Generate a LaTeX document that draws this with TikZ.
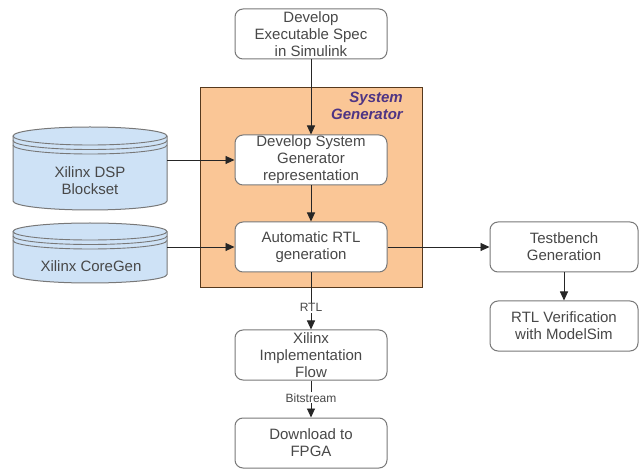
\documentclass[tikz,border=0pt]{standalone}
\usepackage{fontspec}
\setmainfont{Liberation Sans}
\usetikzlibrary{arrows.meta,positioning}

\definecolor{sysorange}{RGB}{250,198,150}
\definecolor{diskblue}{RGB}{206,226,246}
\definecolor{sgpurple}{RGB}{78,52,132}
\definecolor{txtgray}{RGB}{72,72,72}
\definecolor{boxgray}{RGB}{120,120,120}

\begin{document}
\begin{tikzpicture}[x=1pt, y=1pt,
    procbox/.style={draw=boxgray, line width=1pt, rounded corners=8pt, fill=white,
        text=txtgray, align=center, inner sep=0pt,
        minimum width=152pt, minimum height=50pt,
        font=\fontsize{15}{17}\selectfont},
    disk/.style={draw=boxgray, line width=1pt, fill=diskblue},
    disktext/.style={text=txtgray, align=center, font=\fontsize{15}{17}\selectfont},
    link/.style={draw=black!85, line width=0.9pt, -{Triangle[length=9pt,width=8pt]}},
    tag/.style={fill=white, text=txtgray, inner sep=1pt, font=\fontsize{12}{14}\selectfont}]

\useasboundingbox (0,0) rectangle (640,469);
\fill[white] (0,0) rectangle (640,469);

% the System Generator region
\draw[fill=sysorange, draw=black!55!brown, line width=1pt] (200,181) rectangle (422,381);
\node (sgname) [anchor=north east, align=right, text=sgpurple, inner sep=0pt,
    font=\fontsize{15}{17}\bfseries\itshape] at (403,377) {System\\Generator};

% the flow boxes
\node (spec)   [procbox] at (311,435) {Develop\\Executable Spec\\in Simulink};
\node (sgrep)  [procbox] at (311,309) {Develop System\\Generator\\representation};
\node (rtlgen) [procbox] at (311,222) {Automatic RTL\\generation};
\node (impl)   [procbox] at (311,114) {Xilinx\\Implementation\\Flow};
\node (fpga)   [procbox] at (311,26)  {Download to\\FPGA};
\node (tbgen)  [procbox, minimum width=148pt] at (564,222) {Testbench\\Generation};
\node (verif)  [procbox, minimum width=148pt] at (564,143) {RTL Verification\\with ModelSim};

% the two libraries, drawn as stacked disks
\foreach \nm/\top/\bot/\ry in {dsp/342/259/9, core/246/186/8.5} {
    \pgfmathsetmacro\ct{\top-\ry}
    \pgfmathsetmacro\cb{\bot+\ry}
    \filldraw[disk] (13,\ct) -- (13,\cb)
        arc[start angle=180, end angle=360, x radius=77pt, y radius=\ry pt]
        -- (167,\ct)
        arc[start angle=0, end angle=180, x radius=77pt, y radius=\ry pt] -- cycle;
    \foreach \d in {0,4.5,9}
        \draw[boxgray, line width=0.9pt] (13,\ct-\d)
            arc[start angle=180, end angle=360, x radius=77pt, y radius=\ry pt];
    \node (\nm) [minimum width=154pt, minimum height={(\top-\bot)*1pt}, inner sep=0pt]
        at (90,{(\top+\bot)/2}) {};
}
\node (dsptxt)  [disktext] at (90,288) {Xilinx DSP\\Blockset};
\node (coretxt) [disktext] at (91,203) {Xilinx CoreGen};

% connectors
\draw[link] (spec) -- (sgrep);
\draw[link] (sgrep) -- (rtlgen);
\draw[link] (rtlgen) -- node[tag, pos=0.62] {RTL} (impl);
\draw[link] (impl) -- node[tag, pos=0.47] {Bitstream} (fpga);
\draw[link] (dsp.east |- sgrep) -- (sgrep);
\draw[link] (core.east |- rtlgen) -- (rtlgen);
\draw[link] (rtlgen) -- (tbgen);
\draw[link] (tbgen) -- (verif);

\end{tikzpicture}
\end{document}
